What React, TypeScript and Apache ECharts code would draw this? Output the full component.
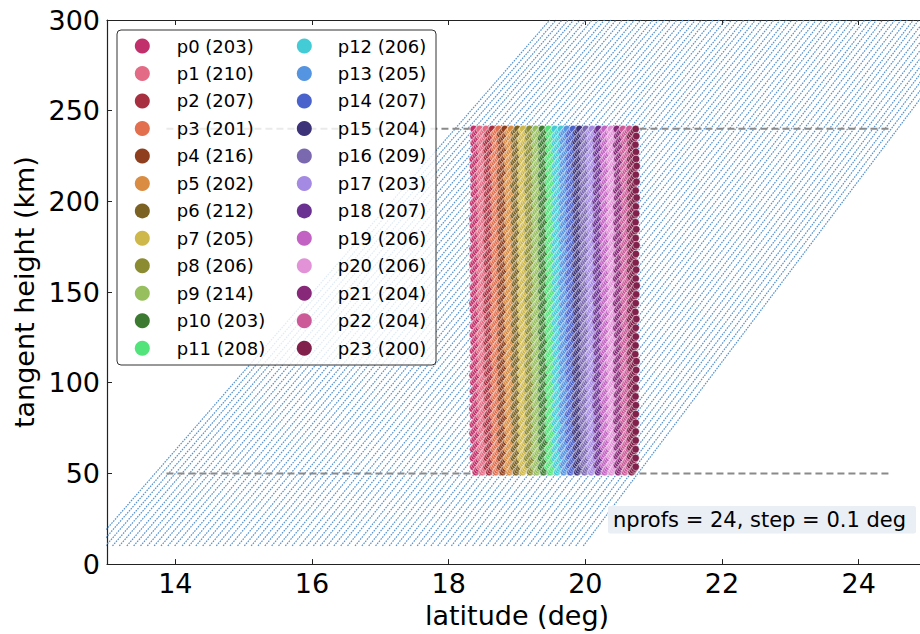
import React, { useEffect, useRef } from "react";
import * as echarts from "echarts";

// ---- data ----
const xTicks = [14, 16, 18, 20, 22, 24];
const yTicks = [0, 50, 100, 150, 200, 250, 300];

const profileNames = ["p0","p1","p2","p3","p4","p5","p6","p7","p8","p9","p10","p11","p12","p13","p14","p15","p16","p17","p18","p19","p20","p21","p22","p23"];
const profileCounts = [203,210,207,201,216,202,212,205,206,214,203,208,206,205,207,204,209,203,207,206,206,204,204,200];
const profileLats = [18.4,18.5,18.6,18.7,18.8,18.9,19.0,19.1,19.2,19.3,19.4,19.5,19.6,19.7,19.8,19.9,20.0,20.1,20.2,20.3,20.4,20.5,20.6,20.7];
const profileColors = ["#c1306a","#e36b85","#a82f40","#e2704f","#8f3f1d","#da8d42","#7b6222","#cfb84b","#8b8b31","#97bf5e","#3c7a31","#52e37a","#43ccd6","#5494e0","#4a62cc","#3c3379","#7b69b0","#a48ae2","#6a3192","#c262c2","#e293d8","#882879","#cc5a99","#81214b"];
const profileHalfWidth = 0.05;
const profileHeightRange = [50, 240];

// limb scans: tangent-point latitude at the lowest (10 km) and highest (300 km) tangent height
const scanHeightRange = [10, 300];
const scanStartLats = [12.78,12.88,12.98,13.08,13.18,13.29,13.39,13.49,13.59,13.69,13.79,13.89,13.99,14.10,14.20,14.30,14.40,14.50,14.60,14.70,14.80,14.91,15.01,15.11,15.21,15.31,15.41,15.51,15.61,15.71,15.82,15.92,16.02,16.12,16.22,16.32,16.42,16.52,16.63,16.73,16.83,16.93,17.03,17.13,17.23,17.33,17.44,17.54,17.64,17.74,17.84,17.94,18.04,18.14,18.24,18.35,18.45,18.55,18.65,18.75,18.85,18.95,19.05,19.16,19.26,19.36,19.46,19.56,19.66,19.76,19.86,19.97];
const scanEndLats = [19.48,19.57,19.66,19.75,19.83,19.92,20.01,20.10,20.19,20.28,20.37,20.45,20.54,20.63,20.72,20.81,20.90,20.99,21.07,21.16,21.25,21.34,21.43,21.52,21.61,21.70,21.78,21.87,21.96,22.05,22.14,22.23,22.32,22.40,22.49,22.58,22.67,22.76,22.85,22.94,23.02,23.11,23.20,23.29,23.38,23.47,23.56,23.64,23.73,23.82,23.91,24.00,24.09,24.18,24.26,24.35,24.44,24.53,24.62,24.71,24.80,24.88,24.97,25.06,25.15,25.24,25.33,25.42,25.50,25.59,25.68,25.77];
const scanSampleStep = 0.97; // km between samples of one scan

const dashedHeights = [50, 240];
const dashedLatRange = [13.87, 24.44];

const annotation = "nprofs = 24, step = 0.1 deg";

const FONT = "DejaVu Sans";

export default function App() {
  const ref = useRef<HTMLDivElement>(null);
  useEffect(() => {
    if (!ref.current) return;
    const chart = echarts.init(ref.current, undefined, { renderer: "svg" });
    const [h0, h1] = scanHeightRange;

    const series: any[] = [];
    // scans
    scanStartLats.forEach((s, i) => {
      series.push({
        type: "line",
        name: "scan" + i,
        data: [[s, h0], [scanEndLats[i], h1]],
        showSymbol: false,
        silent: true,
        z: 1,
        lineStyle: { color: "#5592cc", width: 1.2, type: [1.6, 1.1] },
      });
    });
    // dashed reference lines
    dashedHeights.forEach((h, i) => {
      series.push({
        type: "line",
        name: "dash" + i,
        data: dashedLatRange.map((x) => [x, h]),
        showSymbol: false,
        silent: true,
        z: 2,
        lineStyle: { color: "#8a8a8a", width: 2, type: [7, 4] },
      });
    });
    // profiles: scan samples falling inside each latitude bin
    const nSteps = Math.floor((h1 - h0) / scanSampleStep);
    profileLats.forEach((c, p) => {
      const pts: number[][] = [];
      scanStartLats.forEach((s, i) => {
        const e = scanEndLats[i];
        for (let k = 0; k <= nSteps; k++) {
          const h = h0 + k * scanSampleStep;
          if (h < profileHeightRange[0] || h > profileHeightRange[1]) continue;
          const lat = s + (e - s) * (h - h0) / (h1 - h0);
          if (Math.abs(lat - c) <= profileHalfWidth) pts.push([lat, h]);
        }
      });
      series.push({
        type: "scatter",
        name: `${profileNames[p]} (${profileCounts[p]})`,
        data: pts,
        symbolSize: 7.5,
        z: 3,
        itemStyle: { color: profileColors[p], borderColor: "#ffffff", borderWidth: 0.5, opacity: 1 },
      });
    });

    // legend graphic
    const graphics: any[] = [
      {
        type: "rect",
        z: 10,
        shape: { x: 117, y: 30, width: 319, height: 335, r: 4 },
        style: { fill: "rgba(255,255,255,0.82)", stroke: "#333", lineWidth: 1 },
      },
    ];
    profileNames.forEach((n, i) => {
      const col = i < 12 ? 0 : 1;
      const row = i % 12;
      const cy = 46 + row * 27.48;
      graphics.push({
        type: "circle",
        z: 11,
        shape: { cx: col ? 304.3 : 142.3, cy, r: 7.5 },
        style: { fill: profileColors[i] },
      });
      graphics.push({
        type: "text",
        z: 11,
        x: col ? 337.7 : 176.7,
        y: cy,
        style: {
          text: `${n} (${profileCounts[i]})`,
          font: `18px '${FONT}'`,
          fill: "#000",
          verticalAlign: "middle",
          align: "left",
        },
      });
    });
    graphics.push({
      type: "rect",
      z: 10,
      shape: { x: 608, y: 506, width: 308, height: 27.5, r: 2 },
      style: { fill: "#eaeff6" },
    });
    graphics.push({
      type: "text",
      z: 11,
      x: 613,
      y: 520,
      style: { text: annotation, font: `21px '${FONT}'`, fill: "#000", verticalAlign: "middle", align: "left" },
    });

    const axisLineStyle = { color: "#222", width: 1.2 };
    const tickStyle = { show: true, inside: true, length: 5, lineStyle: { color: "#222", width: 1 } };

    chart.setOption({
      animation: false,
      backgroundColor: "#ffffff",
      grid: { left: 107, top: 20, width: 820, height: 545, containLabel: false },
      xAxis: [
        {
          type: "value",
          min: 13,
          max: 25,
          position: "bottom",
          name: "latitude (deg)",
          nameLocation: "middle",
          nameGap: 31,
          nameTextStyle: { fontFamily: FONT, fontSize: 27, color: "#000" },
          axisLine: { show: true, onZero: false, lineStyle: axisLineStyle },
          axisTick: { ...tickStyle, customValues: xTicks },
          axisLabel: { customValues: xTicks, fontFamily: FONT, fontSize: 27, color: "#000", margin: 6 },
          splitLine: { show: false },
        },
        {
          type: "value",
          min: 13,
          max: 25,
          position: "top",
          axisLine: { show: true, onZero: false, lineStyle: axisLineStyle },
          axisTick: { ...tickStyle, customValues: xTicks },
          axisLabel: { show: false },
          splitLine: { show: false },
        },
      ],
      yAxis: [
        {
          type: "value",
          min: 0,
          max: 300,
          interval: 50,
          position: "left",
          name: "tangent height (km)",
          nameLocation: "middle",
          nameGap: 66,
          nameRotate: 90,
          nameTextStyle: { fontFamily: FONT, fontSize: 27, color: "#000" },
          axisLine: { show: true, onZero: false, lineStyle: axisLineStyle },
          axisTick: { ...tickStyle, customValues: yTicks },
          axisLabel: { customValues: yTicks, fontFamily: FONT, fontSize: 27, color: "#000", margin: 7 },
          splitLine: { show: false },
        },
        {
          type: "value",
          min: 0,
          max: 300,
          interval: 50,
          position: "right",
          axisLine: { show: true, onZero: false, lineStyle: axisLineStyle },
          axisTick: { ...tickStyle, customValues: yTicks },
          axisLabel: { show: false },
          splitLine: { show: false },
        },
      ],
      graphic: graphics,
      series,
    });
    return () => chart.dispose();
  }, []);

  return (
    <div style={{ position: "absolute", left: 0, top: 0, width: 920, height: 634, overflow: "hidden", background: "#fff" }}>
      <div ref={ref} style={{ width: 937, height: 634 }} />
    </div>
  );
}
